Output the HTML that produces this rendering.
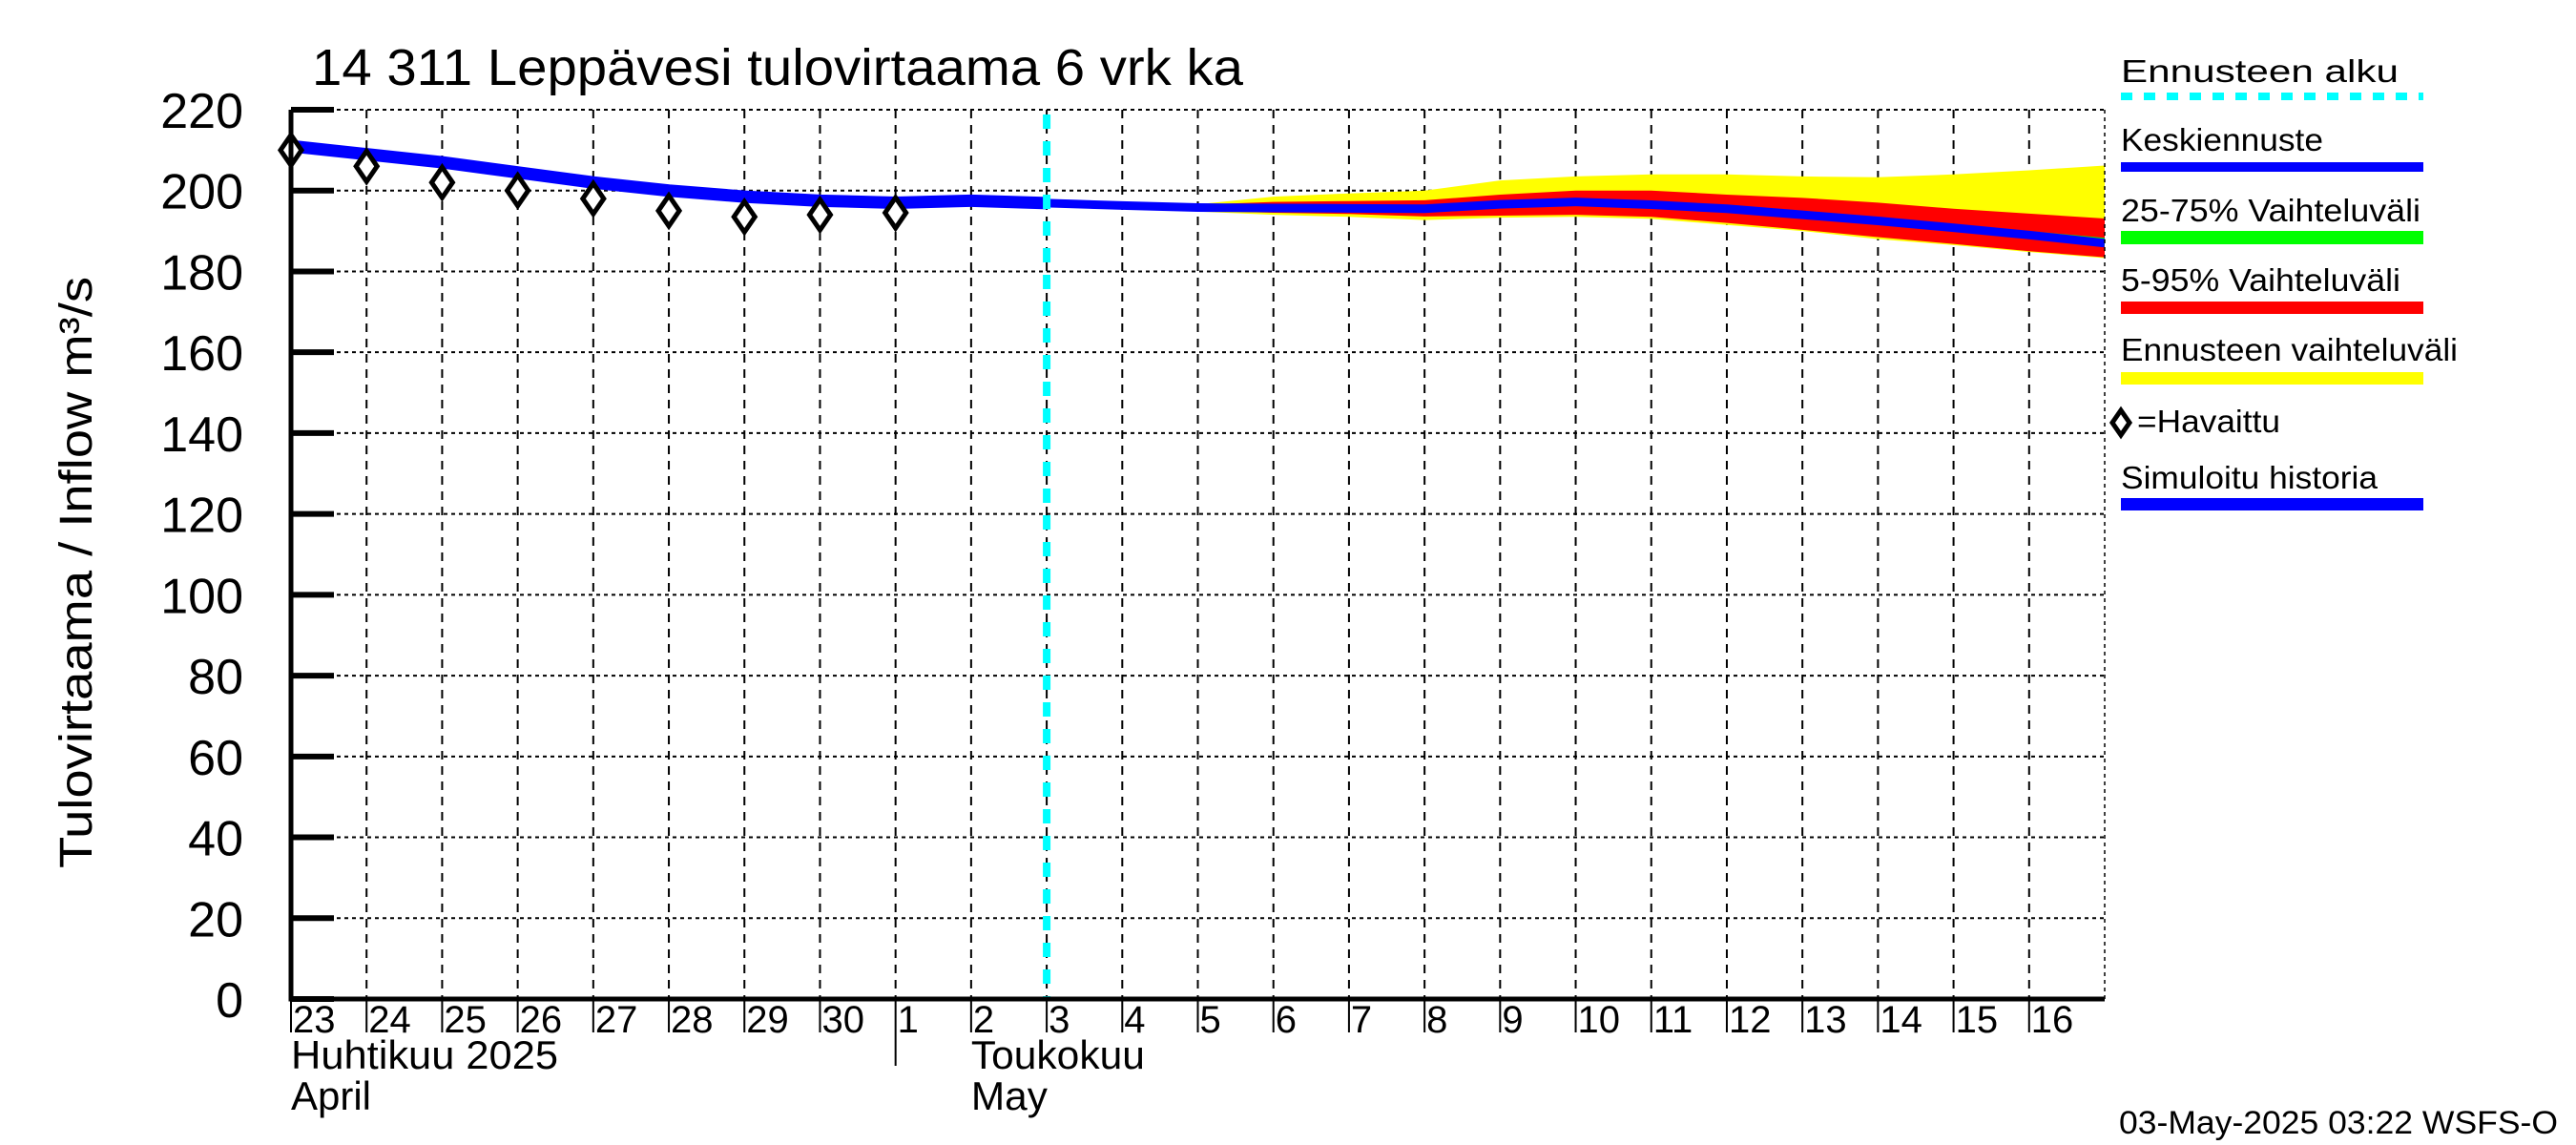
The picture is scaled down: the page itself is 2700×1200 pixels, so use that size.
<!DOCTYPE html>
<html><head><meta charset="utf-8"><style>
html,body{margin:0;padding:0;background:#fff}
svg{display:block}
text{font-family:"Liberation Sans",sans-serif;fill:#000}
</style></head><body>
<svg id="chart" width="2700" height="1200" viewBox="0 0 2700 1200" xmlns="http://www.w3.org/2000/svg">
<text x="327" y="89" font-size="54" textLength="976" lengthAdjust="spacingAndGlyphs">14 311 Leppävesi tulovirtaama 6 vrk ka</text>
<g id="grid"></g>
<g id="bands"></g>
<g id="lines"></g>
<g id="axes"></g>
<text transform="translate(96,600) rotate(-90)" font-size="48" text-anchor="middle" textLength="620" lengthAdjust="spacingAndGlyphs">Tulovirtaama / Inflow    m³/s</text>
<g id="legend"></g>
<text x="2221" y="1188" font-size="34" textLength="460" lengthAdjust="spacingAndGlyphs">03-May-2025 03:22 WSFS-O</text>
</svg>
<script>
const yTicks = [0,20,40,60,80,100,120,140,160,180,200,220];
const dayLabels = ["23","24","25","26","27","28","29","30","1","2","3","4","5","6","7","8","9","10","11","12","13","14","15","16"];
const obsDays = [0,1,2,3,4,5,6,7,8];
const observed = [210,206,202,200,198,195,193.5,194,194.5];
const simDays = [0,1,2,3,4,5,6,7,8,9,10];
const simulated = [211,209,207,204.5,202,200,198.5,197.5,197,197.5,196.9];
const fcDays = [10,11,12,13,14,15,16,17,18,19,20,21,22,23,24];
const median = [196.9,196.3,195.8,195.7,195.6,195.5,196.6,197.2,196.5,195.5,194,192.5,190.8,189,187];
const p75 = [196.9,196.6,196.3,196.3,196.3,196.3,197.5,198.1,197.5,196.5,195,193.5,191.8,190,188.3];
const p25 = [196.9,196,195.4,195.2,195.1,195,196,196.5,195.8,194.8,193.3,191.8,190.1,188.3,186.2];
const p95 = [196.9,196.5,196.5,197.2,197.4,197.6,199,200,200,199,198.2,197,195.5,194.3,193.1];
const p5 = [196.9,196,195,194.5,194.2,193.6,193.8,194,193.5,192,190.3,188.5,186.8,185,183.5];
const fmax = [196.9,196.8,196.6,198.5,199.3,200,202.5,203.5,204,204,203.5,203.3,204,205,206.2];
const fmin = [196.9,196,194.8,194,193.5,192.7,193.3,193.5,193,191.5,190,188,186.5,184.8,183.3];
const forecastStart = 10;

const X0=305,X1=2206,Y0=1047,Y1=115,NDAYS=24,VMAX=220;
const x=d=>X0+d*(X1-X0)/NDAYS;
const y=v=>Y0-v*(Y0-Y1)/VMAX;
const NS="http://www.w3.org/2000/svg";
function mk(tag,parent,attrs){const e=document.createElementNS(NS,tag);for(const k in attrs)e.setAttribute(k,attrs[k]);parent.appendChild(e);return e;}
const grid=document.getElementById('grid'),bands=document.getElementById('bands'),lines=document.getElementById('lines'),axes=document.getElementById('axes'),legend=document.getElementById('legend');

yTicks.forEach(v=>{
  if(v>0){const l=mk('line',grid,{x1:X0,x2:X1,y1:y(v),y2:y(v),stroke:'#000','stroke-width':2,'stroke-dasharray':'4,4'});
  
  }
  const t=mk('line',axes,{x1:X0,x2:X0+45,y1:y(v),y2:y(v),stroke:'#000','stroke-width':6});
  
  
  const lb=mk('text',axes,{x:255,y:y(v)+19,'font-size':52,'text-anchor':'end'});
  lb.textContent=v;
  
  
});
dayLabels.forEach((s,i)=>{
  if(i>0){const l=mk('line',grid,{x1:x(i),x2:x(i),y1:Y1,y2:Y0,stroke:'#000','stroke-width':2,'stroke-dasharray':'9,7'});
  
  }
  const t=mk('line',axes,{x1:x(i),x2:x(i),y1:Y0,y2:i===8?1117:1082,stroke:'#000','stroke-width':2});
  
  
  const lb=mk('text',axes,{x:x(i)+2,y:1082,'font-size':40});
  lb.textContent=s;
  
  
});
[[X0,1120,'Huhtikuu  2025',280],[X0,1163,'April',84],[x(9),1120,'Toukokuu',182],[x(9),1163,'May',80]].forEach(m=>{
  const t=mk('text',axes,{x:m[0],y:m[1],'font-size':42,textLength:m[3],lengthAdjust:'spacingAndGlyphs'});
  t.textContent=m[2];
  
  
});

function band(lo,hi,color,name){
  let d='M'+fcDays.map((dd,i)=>x(dd)+','+y(hi[i])).join(' L');
  d+=' L'+fcDays.map((dd,i)=>x(dd)+','+y(lo[i])).reverse().join(' L')+' Z';
  const p=mk('path',bands,{d:d,fill:color});
  
  
}
band(fmin,fmax,'#ffff00','forecast-range-band');
band(p5,p95,'#ff0000','band-5-95');
band(p25,p75,'#00ff00','band-25-75');

const sim=mk('polyline',lines,{points:simDays.map((d,i)=>x(d)+','+y(simulated[i])).join(' '),fill:'none',stroke:'#0000ff','stroke-width':13});


const med=mk('polyline',lines,{points:fcDays.map((d,i)=>x(d)+','+y(median[i])).join(' '),fill:'none',stroke:'#0000ff','stroke-width':9});


const cy=mk('line',lines,{x1:x(forecastStart),x2:x(forecastStart),y1:Y1+5,y2:Y0,stroke:'#00ffff','stroke-width':8,'stroke-dasharray':'15,13'});


obsDays.forEach((d,i)=>{
  const cx=x(d),cyv=y(observed[i]);
  const p=mk('polygon',lines,{points:`${cx},${cyv-16} ${cx+11},${cyv} ${cx},${cyv+16} ${cx-11},${cyv}`,fill:'#fff',stroke:'#000','stroke-width':5});
  
  
});

const ax=mk('path',axes,{d:`M${X0},${Y1} V${Y0} H${X1}`,fill:'none',stroke:'#000','stroke-width':5});


const rt=mk('line',axes,{x1:X1,x2:X1,y1:Y1,y2:Y0,stroke:'#000','stroke-width':1.5,'stroke-dasharray':'4,4'});


const tp=mk('line',axes,{x1:X0,x2:X1,y1:Y1,y2:Y1,stroke:'#000','stroke-width':2,'stroke-dasharray':'4,4'});



const legItems=[
  ['Keskiennuste',158,'#0000ff',170,10,212],
  ['25-75% Vaihteluväli',232,'#00ff00',242,14,314],
  ['5-95% Vaihteluväli',305,'#ff0000',316,13,293],
  ['Ennusteen vaihteluväli',378,'#ffff00',390,13,353],
  ['Simuloitu historia',512,'#0000ff',522,13,269]
];
const la=mk('text',legend,{x:2223,y:86,'font-size':33,textLength:291,lengthAdjust:'spacingAndGlyphs'});
la.textContent='Ennusteen alku';


const ls=mk('line',legend,{x1:2223,x2:2540,y1:101,y2:101,stroke:'#00ffff','stroke-width':8,'stroke-dasharray':'12,12'});


legItems.forEach(it=>{
  const t=mk('text',legend,{x:2223,y:it[1],'font-size':33,textLength:it[5],lengthAdjust:'spacingAndGlyphs'});
  t.textContent=it[0];
  
  
  const r=mk('rect',legend,{x:2223,y:it[3],width:317,height:it[4],fill:it[2]});
  
  
});
const ld=mk('polygon',legend,{points:'2223,430 2232,443 2223,456 2214,443',fill:'#fff',stroke:'#000','stroke-width':5});


const lt=mk('text',legend,{x:2240,y:453,'font-size':33,textLength:150,lengthAdjust:'spacingAndGlyphs'});
lt.textContent='=Havaittu';


</script>
</body></html>
